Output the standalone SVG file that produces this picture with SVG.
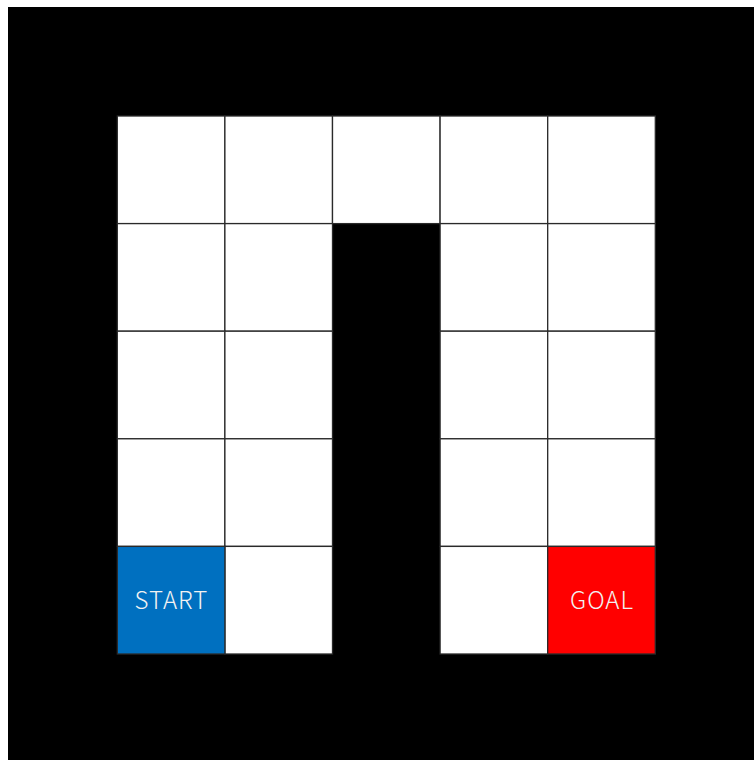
<svg xmlns="http://www.w3.org/2000/svg" width="754" height="760" viewBox="0 0 754 760">
<style>
.cell{fill:#fff;stroke:#2a2a2a;stroke-width:1.3}
.lbl{fill:#f2f2f2;font-family:"Noto Sans CJK JP","Noto Sans",sans-serif;font-size:24px;font-weight:300;letter-spacing:1px;text-anchor:middle}
</style>
<rect x="0" y="0" width="754" height="760" fill="#fff"/>
<rect x="8" y="7" width="746" height="753" fill="#000"/>
<g id="grid">
<rect class="cell" x="117.3" y="116" width="107.6" height="107.6"/>
<rect class="cell" x="224.9" y="116" width="107.6" height="107.6"/>
<rect class="cell" x="332.5" y="116" width="107.6" height="107.6"/>
<rect class="cell" x="440.1" y="116" width="107.6" height="107.6"/>
<rect class="cell" x="547.7" y="116" width="107.6" height="107.6"/>
<rect class="cell" x="117.3" y="223.6" width="107.6" height="107.6"/>
<rect class="cell" x="224.9" y="223.6" width="107.6" height="107.6"/>
<rect class="cell" x="440.1" y="223.6" width="107.6" height="107.6"/>
<rect class="cell" x="547.7" y="223.6" width="107.6" height="107.6"/>
<rect class="cell" x="117.3" y="331.2" width="107.6" height="107.6"/>
<rect class="cell" x="224.9" y="331.2" width="107.6" height="107.6"/>
<rect class="cell" x="440.1" y="331.2" width="107.6" height="107.6"/>
<rect class="cell" x="547.7" y="331.2" width="107.6" height="107.6"/>
<rect class="cell" x="117.3" y="438.8" width="107.6" height="107.6"/>
<rect class="cell" x="224.9" y="438.8" width="107.6" height="107.6"/>
<rect class="cell" x="440.1" y="438.8" width="107.6" height="107.6"/>
<rect class="cell" x="547.7" y="438.8" width="107.6" height="107.6"/>
<rect class="cell" x="224.9" y="546.4" width="107.6" height="107.6"/>
<rect class="cell" x="440.1" y="546.4" width="107.6" height="107.6"/>
</g>
<g id="start">
<rect x="117.3" y="546.4" width="107.6" height="107.6" fill="#0070C0" stroke="#2a2a2a" stroke-width="1.3"/>
<text class="lbl" x="171.5" y="609">START</text>
</g>
<g id="goal">
<rect x="547.7" y="546.4" width="107.6" height="107.6" fill="#FF0000" stroke="#2a2a2a" stroke-width="1.3"/>
<text class="lbl" x="602" y="609">GOAL</text>
</g>
</svg>
